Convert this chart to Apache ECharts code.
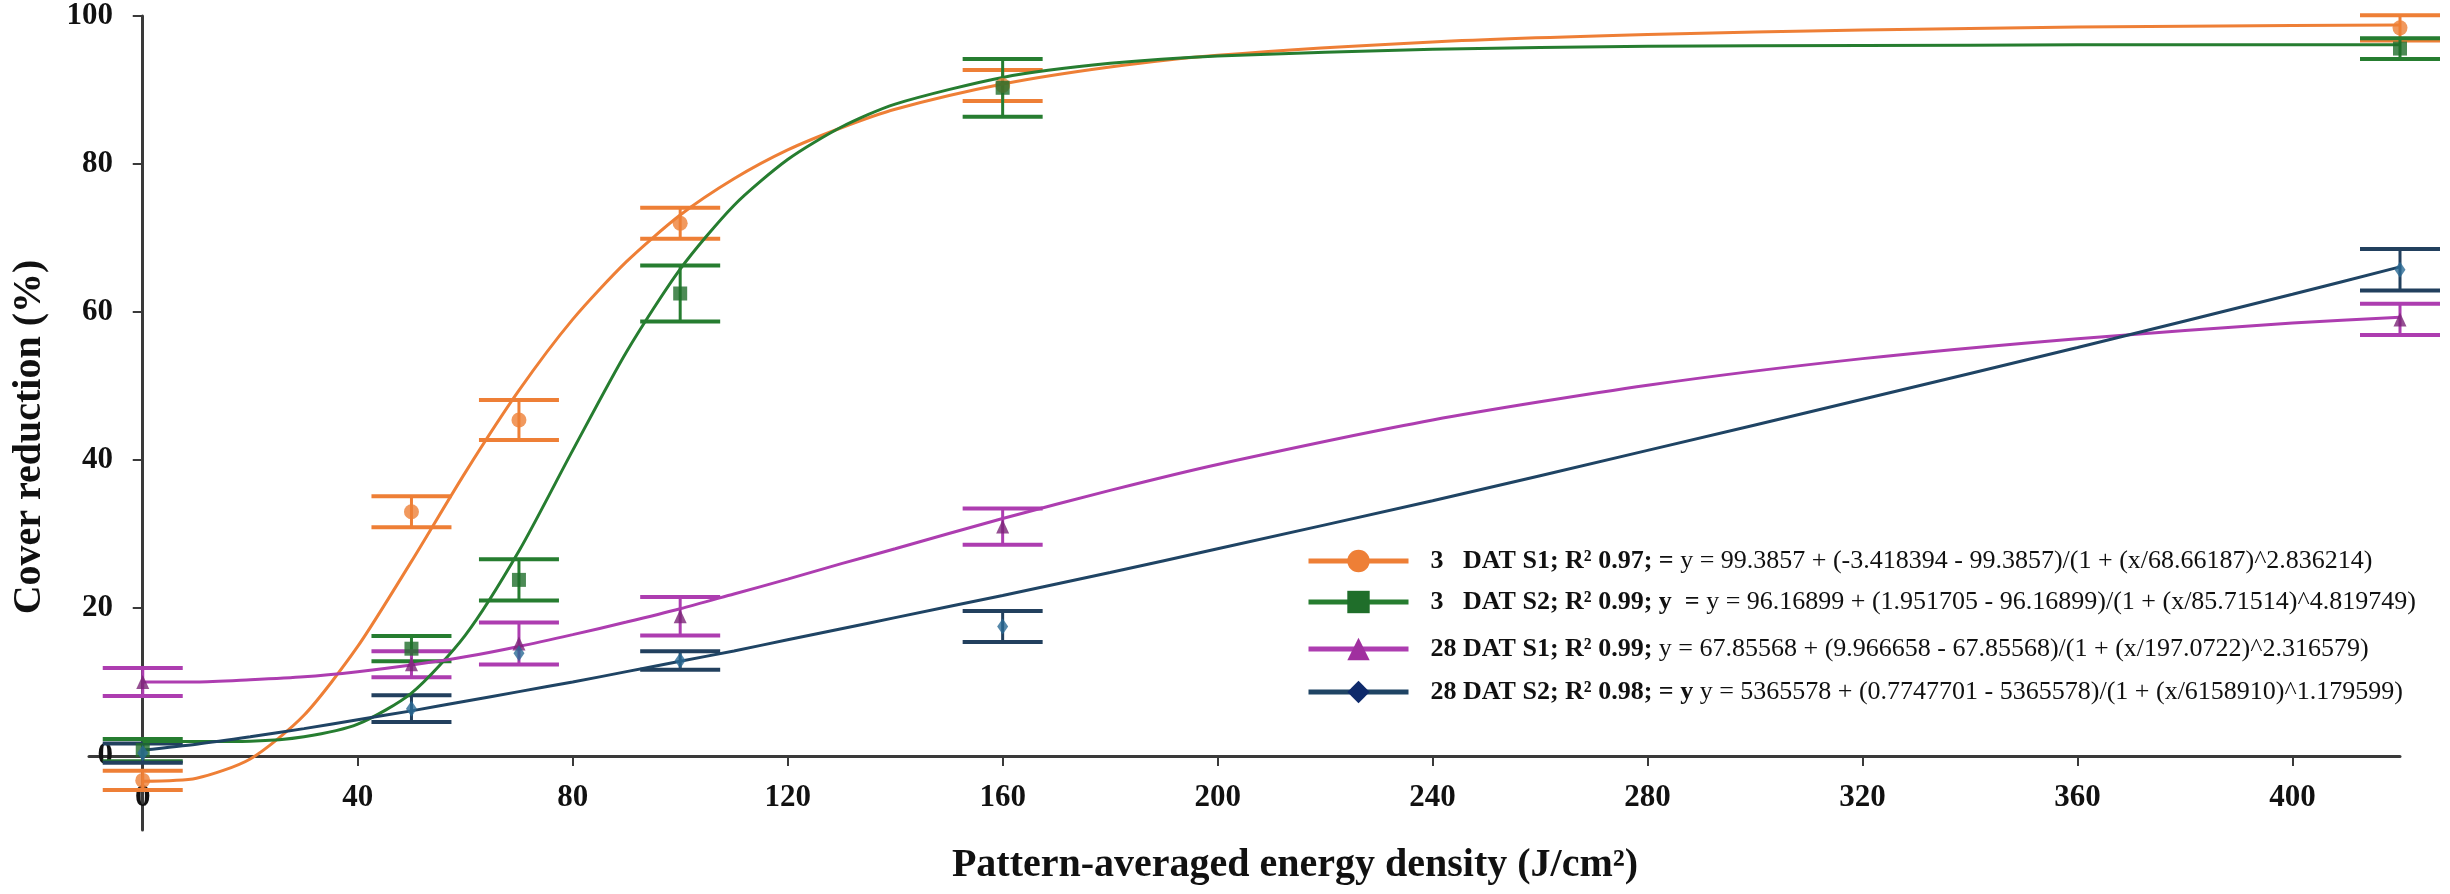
<!DOCTYPE html>
<html><head><meta charset="utf-8">
<script src="https://cdn.jsdelivr.net/npm/echarts@6/dist/echarts.min.js"></script>
<style>html,body{margin:0;padding:0;background:#fff}#chart{width:2450px;height:894px}</style>
</head><body><div id="chart"></div>
<script>
// ---- tick labels ----
const xTicks = [0, 40, 80, 120, 160, 200, 240, 280, 320, 360, 400];
const yTicks = [0, 20, 40, 60, 80, 100];

// ---- legend ----
const seriesNames = ['3 DAT S1', '3 DAT S2', '28 DAT S1', '28 DAT S2'];
const legendBold = ['3   DAT S1; R² 0.97; =', '3   DAT S2; R² 0.99; y  =', '28 DAT S1; R² 0.99;', '28 DAT S2; R² 0.98; = y'];
const legendEq = [
  ' y = 99.3857 + (-3.418394 - 99.3857)/(1 + (x/68.66187)^2.836214)',
  ' y = 96.16899 + (1.951705 - 96.16899)/(1 + (x/85.71514)^4.819749)',
  ' y = 67.85568 + (9.966658 - 67.85568)/(1 + (x/197.0722)^2.316579)',
  ' y = 5365578 + (0.7747701 - 5365578)/(1 + (x/6158910)^1.179599)'
];

// ---- observed points (energy density, cover reduction, error) ----
const doseX = [0, 50, 70, 100, 160, 420];
const d3s1 = [-3.3, 33.0, 45.4, 72.0, 90.6, 98.4];
const d3s1Err = [1.3, 2.1, 2.7, 2.1, 2.1, 1.7];
const d3s2 = [0.8, 14.5, 23.8, 62.5, 90.3, 95.6];
const d3s2Err = [1.5, 1.7, 2.8, 3.8, 3.9, 1.4];
const d28s1 = [10.0, 12.4, 15.2, 18.9, 31.0, 59.0];
const d28s1Err = [1.9, 1.75, 2.85, 2.6, 2.45, 2.1];
const d28s2 = [0.4, 6.4, 13.9, 12.9, 17.5, 65.7];
const d28s2Err = [1.3, 1.8, 0, 1.25, 2.1, 2.8];

// ---- fitted curves ----
const curveX = [0, 10, 20, 30, 40, 50, 60, 70, 80, 90, 100, 110, 120, 130, 140, 160, 180, 200, 240, 280, 320, 360, 400, 420];
const fit3s1 = [-3.4, -3.0, -0.4, 5.5, 14.8, 26.3, 38.3, 49.4, 59.0, 66.8, 73.1, 78.0, 81.9, 84.9, 87.4, 90.8, 93.1, 94.7, 96.5, 97.5, 98.1, 98.5, 98.7, 98.8];
const fit3s2 = [1.95, 1.95, 2.0, 2.6, 4.3, 8.5, 16.3, 27.7, 41.3, 54.6, 65.8, 74.4, 80.6, 85.0, 88.1, 91.7, 93.6, 94.6, 95.5, 95.9, 96.0, 96.1, 96.1, 96.1];
const fit28s1 = [10.0, 10.0, 10.3, 10.7, 11.4, 12.3, 13.4, 14.8, 16.4, 18.1, 19.9, 21.9, 23.9, 26.0, 28.0, 32.1, 35.9, 39.4, 45.4, 50.1, 53.7, 56.4, 58.5, 59.3];
const fit28s2 = [0.8, 1.6, 2.6, 3.7, 4.9, 6.1, 7.4, 8.7, 10.0, 11.4, 12.8, 14.2, 15.7, 17.2, 18.7, 21.7, 24.8, 28.0, 34.5, 41.3, 48.2, 55.2, 62.4, 66.1];

// ---- styling ----
const lineColors = ['#EE7F36', '#267D30', '#AD3DB0', '#1F4464'];
const markerColors = ['#EE7F36', '#1F6E2A', '#7B2377', '#2A6A95'];
const legendMarkerColors = ['#EE7F36', '#1F6E2A', '#A0309F', '#0E2A6B'];
const errColors = ['#EE7F36', '#267D30', '#AD3DB0', '#22405E'];
const symbols = ['circle', 'rect', 'triangle', 'diamond'];
const symbolSizes = [15, 14, [13, 14], [11, 16]];
const legendRowY = [563, 604, 651, 694];
const serif = '"Liberation Serif", "Times New Roman", serif';

const pointSets = [d3s1, d3s2, d28s1, d28s2];
const errSets = [d3s1Err, d3s2Err, d28s1Err, d28s2Err];
const fitSets = [fit3s1, fit3s2, fit28s1, fit28s2];

function errRenderer(color) {
  return function (params, api) {
    const x = api.value(0), y = api.value(1), e = api.value(2);
    if (!e) return { type: 'group', children: [] };
    const top = api.coord([x, y + e]);
    const bot = api.coord([x, y - e]);
    const hw = 40;
    return {
      type: 'group',
      children: [
        { type: 'line', shape: { x1: top[0], y1: top[1], x2: bot[0], y2: bot[1] }, style: { stroke: color, lineWidth: 3 } },
        { type: 'line', shape: { x1: top[0] - hw, y1: top[1], x2: top[0] + hw, y2: top[1] }, style: { stroke: color, lineWidth: 4 } },
        { type: 'line', shape: { x1: bot[0] - hw, y1: bot[1], x2: bot[0] + hw, y2: bot[1] }, style: { stroke: color, lineWidth: 4 } }
      ]
    };
  };
}

const series = [];
for (let i = 0; i < 4; i++) {
  series.push({
    type: 'custom', name: 'err' + i, z: 1, clip: false,
    renderItem: errRenderer(errColors[i]),
    encode: { x: 0, y: 1 },
    data: doseX.map((x, k) => [x, pointSets[i][k], errSets[i][k]])
  });
}
for (let i = 0; i < 4; i++) {
  series.push({
    type: 'line', name: seriesNames[i], z: 2,
    symbol: symbols[i], showSymbol: false, smooth: 0.25,
    lineStyle: { color: lineColors[i], width: 3 },
    itemStyle: { color: legendMarkerColors[i] },
    data: curveX.map((x, k) => [x, fitSets[i][k]])
  });
}
for (let i = 0; i < 4; i++) {
  series.push({
    type: 'scatter', name: 'pts' + i, z: 3,
    symbol: symbols[i], symbolSize: symbolSizes[i],
    itemStyle: { color: markerColors[i] },
    data: doseX.map((x, k) => [x, pointSets[i][k]])
  });
}

const legends = seriesNames.map((n, i) => ({
  data: [n], orient: 'vertical', left: 1306, top: legendRowY[i] - 15, padding: 0,
  itemWidth: 100, itemHeight: 28, selectedMode: false,
  lineStyle: { width: 5 },
  formatter: (name) => '{g|}{b|' + legendBold[i] + '}{n|' + legendEq[i] + '}',
  textStyle: {
    fontFamily: serif, fontSize: 26, color: '#111',
    rich: {
      g: { width: 17 },
      b: { fontFamily: serif, fontSize: 26, fontWeight: 'bold', lineHeight: 30, color: '#111' },
      n: { fontFamily: serif, fontSize: 26, lineHeight: 30, color: '#111' }
    }
  }
}));

const axisCommon = {
  type: 'value',
  splitLine: { show: false },
  axisLine: { show: true, onZero: true, lineStyle: { color: '#3a3a3a', width: 3 } },
  axisTick: { show: true, length: 10, lineStyle: { color: '#3a3a3a', width: 2 } }
};

const option = {
  animation: false,
  backgroundColor: '#ffffff',
  grid: { left: 89, right: 50, top: 16, bottom: 64, containLabel: false },
  xAxis: Object.assign({}, axisCommon, {
    min: -10, max: 420,
    axisTick: Object.assign({}, axisCommon.axisTick, { customValues: xTicks }),
    axisLabel: { customValues: xTicks, margin: -48, fontFamily: serif, fontWeight: 'bold', fontSize: 31, color: '#111' }
  }),
  yAxis: Object.assign({}, axisCommon, {
    min: -10, max: 100,
    axisTick: Object.assign({}, axisCommon.axisTick, { customValues: yTicks }),
    axisLabel: { customValues: yTicks, margin: -24, fontFamily: serif, fontWeight: 'bold', fontSize: 31, color: '#111' }
  }),
  legend: legends,
  graphic: [
    { type: 'text', x: 30, y: 437, rotation: Math.PI / 2,
      style: { text: 'Cover reduction (%)', fontFamily: serif, fontWeight: 'bold', fontSize: 40, fill: '#111',
               align: 'center', verticalAlign: 'middle', textAlign: 'center', textVerticalAlign: 'middle' } },
    { type: 'text', x: 1295, y: 866,
      style: { text: 'Pattern-averaged energy density (J/cm²)', fontFamily: serif, fontWeight: 'bold', fontSize: 40, fill: '#111',
               align: 'center', verticalAlign: 'middle', textAlign: 'center', textVerticalAlign: 'middle' } }
  ],
  series: series
};

const chart = echarts.init(document.getElementById('chart'), null, { renderer: 'canvas' });
chart.setOption(option);
</script>
</body></html>
